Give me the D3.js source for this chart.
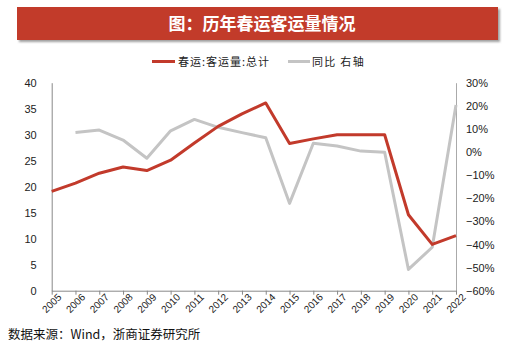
<!DOCTYPE html>
<html><head><meta charset="utf-8">
<script src="https://cdn.jsdelivr.net/npm/d3@7"></script>
<style>body{margin:0;background:#fff}svg{display:block}</style>
</head><body>
<script>
const years = [2005,2006,2007,2008,2009,2010,2011,2012,2013,2014,2015,2016,2017,2018,2019,2020,2021,2022];
const volume = [19.1,20.7,22.6,23.8,23.1,25.1,28.4,31.6,34.0,36.1,28.3,29.2,30.0,30.0,30.0,14.6,8.9,10.6];
const yoy = [null,8.5,9.5,5.2,-2.7,9.2,14.1,10.7,8.4,6.2,-22.2,3.8,2.6,0.4,-0.1,-50.8,-41.2,20.3];
const leftTicks = [0,5,10,15,20,25,30,35,40];
const rightTicks = [30,20,10,0,-10,-20,-30,-40,-50,-60];
const title = "图：历年春运客运量情况";
const seriesNames = ["春运:客运量:总计","同比 右轴"];
const source = "数据来源：Wind，浙商证券研究所";

const W=519,H=346;
const svg=d3.select("body").append("svg").attr("width",W).attr("height",H);
const red="#c23a2b", gray="#c4c4c4";
const x=d3.scalePoint().domain(years).range([51.7,456]);
const yL=d3.scaleLinear().domain([0,40]).range([290.7,82.7]);
const yR=d3.scaleLinear().domain([-60,30]).range([290.7,82.7]);

// title banner
const defs=svg.append("defs");
const f=defs.append("filter").attr("id","sh").attr("x","-5%").attr("y","-20%").attr("width","110%").attr("height","160%");
f.append("feDropShadow").attr("dx",2).attr("dy",2).attr("stdDeviation",1.2).attr("flood-color","#888").attr("flood-opacity",0.8);
svg.append("rect").attr("x",17).attr("y",7).attr("width",481).attr("height",33).attr("fill",red).attr("filter","url(#sh)");
svg.append("text").attr("x",262).attr("y",29.5).attr("text-anchor","middle").attr("fill","#fff")
 .attr("font-family","Noto Sans CJK SC").attr("font-weight","bold").attr("font-size",17).text(title);

// legend
const lg=svg.append("g").attr("font-family","Noto Sans CJK SC").attr("font-size",11).attr("fill","#222");
lg.append("line").attr("x1",152).attr("x2",175).attr("y1",61.5).attr("y2",61.5).attr("stroke",red).attr("stroke-width",3);
lg.append("text").attr("x",178).attr("y",66).attr("letter-spacing",1).text(seriesNames[0]);
lg.append("line").attr("x1",288).attr("x2",310).attr("y1",61.5).attr("y2",61.5).attr("stroke",gray).attr("stroke-width",3);
lg.append("text").attr("x",312).attr("y",66).attr("letter-spacing",1.3).text(seriesNames[1]);

const axisFont="Liberation Sans";
// left axis
const gl=svg.append("g").attr("transform","translate(51.7,0)")
 .call(d3.axisLeft(yL).tickValues(leftTicks).tickSize(0).tickPadding(15));
gl.select(".domain").attr("stroke","#888");
gl.selectAll("text").attr("font-family",axisFont).attr("font-size",11).attr("fill","#222");
// right axis
const gr=svg.append("g").attr("transform","translate(456,0)")
 .call(d3.axisRight(yR).tickValues(rightTicks).tickSize(0).tickPadding(10).tickFormat(d=>(d<0?"\u2212"+(-d):d)+"%"));
gr.select(".domain").attr("stroke","#aaa");
gr.selectAll("text").attr("font-family",axisFont).attr("font-size",11).attr("fill","#222");
// bottom axis
const gb=svg.append("g").attr("transform","translate(0,290.7)")
 .call(d3.axisBottom(x).tickSize(4).tickSizeOuter(0));
gb.select(".domain").attr("stroke","#888");
gb.selectAll(".tick line").attr("stroke","#888");
gb.selectAll("text").attr("font-family",axisFont).attr("font-size",10).attr("fill","#222")
 .attr("text-anchor","end").attr("dx","0.2em").attr("dy","0.5em").attr("transform","rotate(-45)");

// lines
const lineL=d3.line().x((d,i)=>x(years[i])).y(d=>yL(d));
const lineR=d3.line().defined(d=>d!==null).x((d,i)=>x(years[i])).y(d=>yR(d));
svg.append("path").datum(yoy).attr("d",lineR).attr("fill","none").attr("stroke",gray).attr("stroke-width",3).attr("stroke-linejoin","round");
svg.append("path").datum(volume).attr("d",lineL).attr("fill","none").attr("stroke",red).attr("stroke-width",3).attr("stroke-linejoin","round");

// source
svg.append("text").attr("x",8).attr("y",339).attr("font-family","Noto Sans CJK SC").attr("font-size",12.5).attr("fill","#111").text(source);
</script>
</body></html>
